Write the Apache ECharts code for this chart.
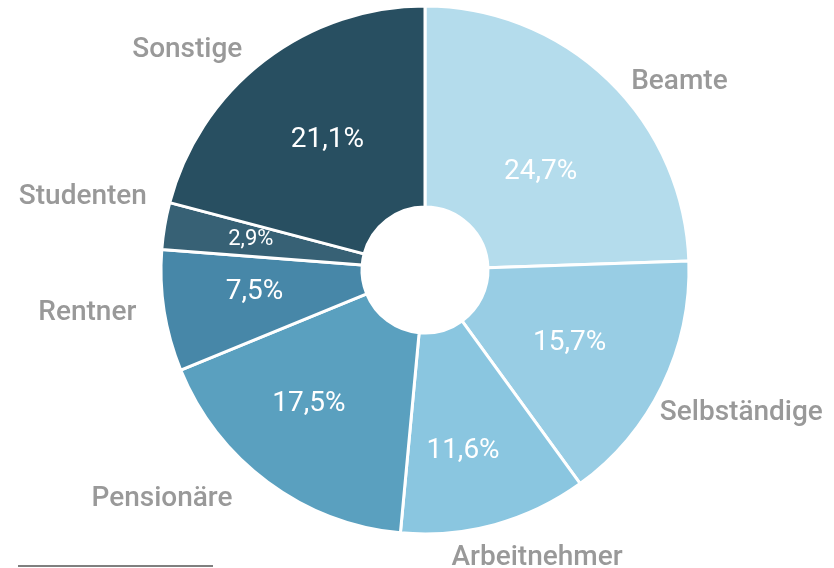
<!DOCTYPE html>
<html>
<head>
<meta charset="utf-8">
<script src="https://cdn.jsdelivr.net/npm/echarts@6/dist/echarts.min.js"></script>
<style>
  html, body { margin: 0; padding: 0; background: #fff; }
  #chart { width: 834px; height: 568px; }
</style>
</head>
<body>
<div id="chart"></div>
<script>
// Anteile nach Berufsgruppe (in %)
var categories = ['Beamte', 'Selbständige', 'Arbeitnehmer', 'Pensionäre', 'Rentner', 'Studenten', 'Sonstige'];
var shares = [24.7, 15.7, 11.6, 17.5, 7.5, 2.9, 21.1];
var colors = ['#b4dcec', '#98cde4', '#8ac6e0', '#5aa0bf', '#4787a8', '#376175', '#284f61'];

// Feinkorrektur der Beschriftungen (px)
var nameShift = [[2, 12], [-26, 21], [-58, 20], [-16, 6], [-3, 0], [7, -27], [-2, 0]];
var valueShift = [[0, 22], [-5, 0], [-6, 20], [-17, 0], [-6, -4], [-10, -3], [4, 2]];

var pieData = [];
for (var i = 0; i < categories.length; i++) {
    pieData.push({
        name: categories[i],
        value: shares[i],
        itemStyle: { color: colors[i] },
        // kleines Segment -> kleinere Schrift
        label: shares[i] < 5 ? { fontSize: 22 } : {}
    });
}

var chart = echarts.init(document.getElementById('chart'));
chart.setOption({
    animation: false,
    series: [
        {
            // Werte innen
            type: 'pie',
            center: [425, 270],
            radius: [63, 264],
            startAngle: 90,
            clockwise: true,
            silent: true,
            itemStyle: { borderColor: '#fff', borderWidth: 3 },
            label: {
                show: true,
                position: 'inside',
                color: '#fff',
                fontFamily: 'Roboto',
                fontSize: 28,
                formatter: function (p) {
                    return String(p.value).replace('.', ',') + '%';
                }
            },
            labelLine: { show: false },
            labelLayout: function (params) {
                var s = valueShift[params.dataIndex];
                return { dx: s[0], dy: s[1] };
            },
            data: pieData
        },
        {
            // Namen außen
            type: 'pie',
            center: [425, 270],
            radius: [63, 264],
            startAngle: 90,
            clockwise: true,
            silent: true,
            itemStyle: { color: 'rgba(0,0,0,0)', borderWidth: 0 },
            label: {
                show: true,
                position: 'outside',
                overflow: 'none',
                color: '#999',
                fontFamily: 'Roboto',
                fontWeight: 500,
                fontSize: 28,
                formatter: '{b}'
            },
            labelLine: { show: false, length: 14, length2: 6 },
            labelLayout: function (params) {
                var s = nameShift[params.dataIndex];
                return { dx: s[0], dy: s[1] };
            },
            data: categories.map(function (c, i) { return { name: c, value: shares[i] }; })
        }
    ],
    graphic: [
        {
            type: 'line',
            shape: { x1: 18, y1: 566, x2: 213, y2: 566 },
            style: { stroke: '#555', lineWidth: 1.5 }
        }
    ]
});
</script>
</body>
</html>
